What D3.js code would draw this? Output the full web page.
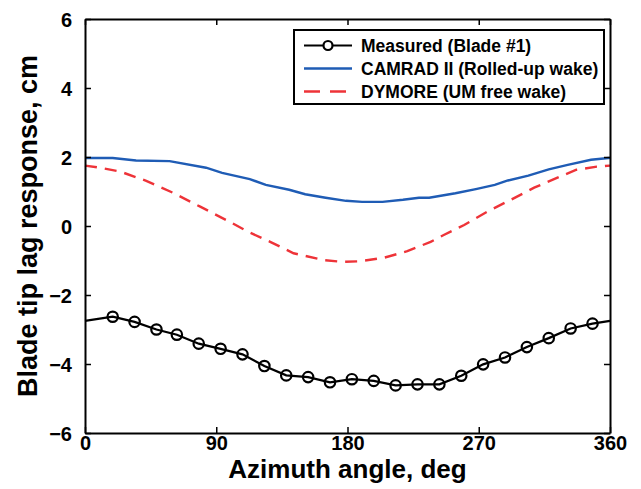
<!DOCTYPE html>
<html><head><meta charset="utf-8">
<script src="https://cdn.jsdelivr.net/npm/d3@7"></script>
<style>body{margin:0;background:#fff}svg{display:block}text{font-family:"Liberation Sans",Arial,sans-serif;font-weight:bold}</style>
</head><body><svg id="c" width="641" height="489"></svg>
<script>
// Measured (Blade #1)
const measuredAz = [19,34,49,63,78,93,108,123,138,153,168,183,198,213,228,243,258,273,288,303,318,333,348];
const measuredVal = [-2.63,-2.78,-3.0,-3.15,-3.41,-3.56,-3.72,-4.06,-4.33,-4.38,-4.53,-4.44,-4.49,-4.62,-4.59,-4.59,-4.34,-4.01,-3.81,-3.51,-3.25,-2.97,-2.83];
const measuredEndAz = [0,360];
const measuredEndVal = [-2.75,-2.75];
// CAMRAD II (Rolled-up wake)
const camradAz = [0,19,35,58,83,94,113,124,140,151,165,179,190,204,218,229,236,254,268,281,290,304,318,331,347,359,360];
const camradVal = [1.97,1.97,1.90,1.88,1.69,1.54,1.36,1.19,1.05,0.92,0.82,0.73,0.70,0.70,0.76,0.82,0.82,0.95,1.07,1.19,1.32,1.46,1.64,1.77,1.92,1.97,1.97];
// DYMORE (UM free wake)
const dymoreAz = [0,10,24,42,61,79,97,113,127,143,164,177,189,205,221,237,246,260,276,292,308,324,337,351,360];
const dymoreVal = [1.75,1.69,1.58,1.31,0.95,0.56,0.17,-0.19,-0.46,-0.79,-0.99,-1.04,-1.02,-0.92,-0.73,-0.46,-0.26,0.03,0.42,0.76,1.11,1.40,1.63,1.72,1.75];
const xTicks = [0,90,180,270,360];
const yTicks = [-6,-4,-2,0,2,4,6];
const legendLabels = ["Measured (Blade #1)","CAMRAD II (Rolled-up wake)","DYMORE (UM free wake)"];

const svg = d3.select("#c");
const L=85,R=610,T=19,B=433;
const x = d3.scaleLinear().domain([0,360]).range([L,R]);
const y = d3.scaleLinear().domain([-6,6]).range([B,T]);

const line = d3.line().x(d=>x(d[0])).y(d=>y(d[1]));
const zip=(a,b)=>a.map((v,i)=>[v,b[i]]);

const blue="#1f5cb5", red="#ee3338";

// curves
const mLine = [[measuredEndAz[0],measuredEndVal[0]], ...zip(measuredAz,measuredVal), [measuredEndAz[1],measuredEndVal[1]]];
svg.append("path").attr("d",line(zip(camradAz,camradVal))).attr("fill","none").attr("stroke",blue).attr("stroke-width",2.4);
svg.append("path").attr("d",line(zip(dymoreAz,dymoreVal))).attr("fill","none").attr("stroke",red).attr("stroke-width",2.4).attr("stroke-dasharray","12,8");
svg.append("path").attr("d",line(mLine)).attr("fill","none").attr("stroke","#000").attr("stroke-width",2.2);
svg.selectAll("circle.m").data(zip(measuredAz,measuredVal)).enter().append("circle")
  .attr("cx",d=>x(d[0])).attr("cy",d=>y(d[1])).attr("r",5.2)
  .attr("fill","none").attr("stroke","#000").attr("stroke-width",2.2);

// axes
const gB = svg.append("g").attr("transform",`translate(0,${B})`).call(d3.axisBottom(x).tickValues(xTicks).tickSizeInner(-6).tickSizeOuter(0));
const gT = svg.append("g").attr("transform",`translate(0,${T})`).call(d3.axisTop(x).tickValues(xTicks).tickSizeInner(-6).tickSizeOuter(0).tickFormat(""));
const gL = svg.append("g").attr("transform",`translate(${L},0)`).call(d3.axisLeft(y).tickValues(yTicks).tickSizeInner(-6).tickSizeOuter(0).tickPadding(13));
const gR = svg.append("g").attr("transform",`translate(${R},0)`).call(d3.axisRight(y).tickValues(yTicks).tickSizeInner(-6).tickSizeOuter(0).tickFormat(""));
[gB,gT,gL,gR].forEach(g=>{
  g.select(".domain").attr("stroke","#000").attr("stroke-width",2);
  g.selectAll(".tick line").attr("stroke","#000").attr("stroke-width",1.5);
  g.selectAll(".tick text").attr("fill","#000").style("font-size","20px").style("font-weight","bold").style("font-family","'Liberation Sans',Arial,sans-serif");
});
gB.selectAll(".tick text").attr("y",17).attr("dy","0");
gL.selectAll(".tick text").attr("dy","0.36em");

// axis titles
svg.append("text").attr("x",(L+R)/2).attr("y",478).attr("text-anchor","middle").style("font-size","26px").text("Azimuth angle, deg");
svg.append("text").attr("transform",`translate(37,${(T+B)/2}) rotate(-90)`).attr("text-anchor","middle").style("font-size","27px").text("Blade tip lag response, cm");

// legend
const lg = svg.append("g");
lg.append("rect").attr("x",294).attr("y",30).attr("width",310).attr("height",74).attr("fill","#fff").attr("stroke","#000").attr("stroke-width",2);
const rows=[45.5,68.5,91.5];
lg.append("line").attr("x1",304).attr("x2",352).attr("y1",rows[0]).attr("y2",rows[0]).attr("stroke","#000").attr("stroke-width",2.2);
lg.append("circle").attr("cx",328).attr("cy",rows[0]).attr("r",4.5).attr("fill","#fff").attr("stroke","#000").attr("stroke-width",2.2);
lg.append("line").attr("x1",304).attr("x2",352).attr("y1",rows[1]).attr("y2",rows[1]).attr("stroke",blue).attr("stroke-width",2.4);
lg.append("line").attr("x1",304).attr("x2",352).attr("y1",rows[2]).attr("y2",rows[2]).attr("stroke",red).attr("stroke-width",2.4).attr("stroke-dasharray","16,10");
legendLabels.forEach((t,i)=>{
  lg.append("text").attr("x",361).attr("y",rows[i]).attr("dy","0.36em").style("font-size","17.5px").text(t);
});
</script></body></html>
